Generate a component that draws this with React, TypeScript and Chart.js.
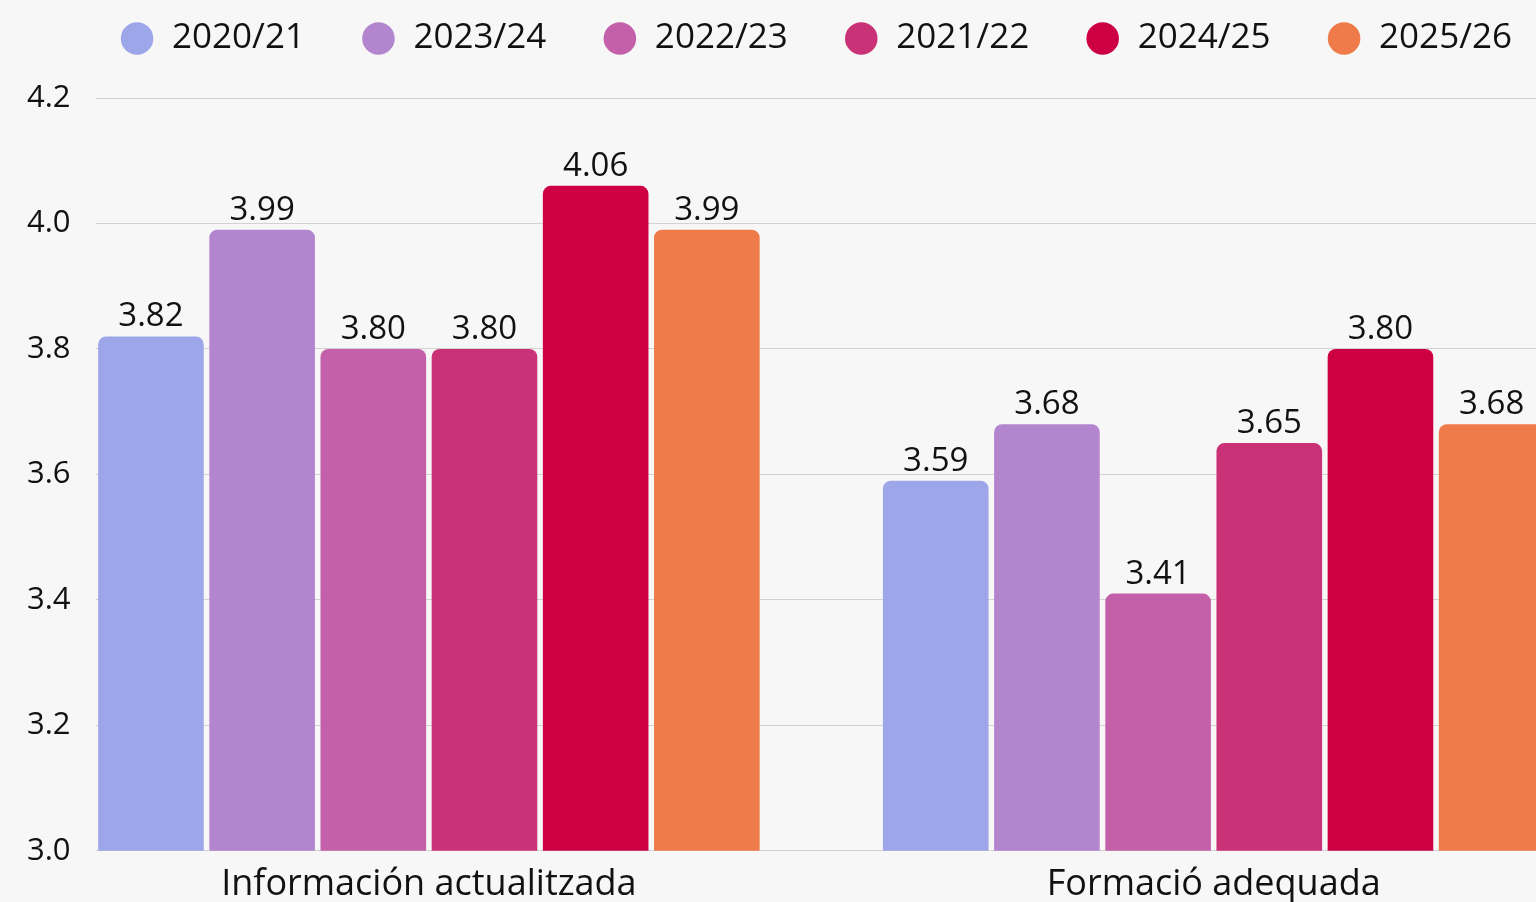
import React, { useEffect, useRef } from "react";
import { Chart, registerables } from "chart.js";

Chart.register(...registerables);

const categories = ["Información actualitzada", "Formació adequada"];
const seriesNames = ["2020/21", "2023/24", "2022/23", "2021/22", "2024/25", "2025/26"];
const values2020_21 = [3.82, 3.59];
const values2023_24 = [3.99, 3.68];
const values2022_23 = [3.8, 3.41];
const values2021_22 = [3.8, 3.65];
const values2024_25 = [4.06, 3.8];
const values2025_26 = [3.99, 3.68];
const seriesValues = [values2020_21, values2023_24, values2022_23, values2021_22, values2024_25, values2025_26];
const seriesColors = ["#9ea6ea", "#b385cf", "#c460a9", "#ca3277", "#cd0044", "#ef7b4a"];
const yMin = 3.0;
const yMax = 4.2;
const yStep = 0.2;

const FONT = "'Open Sans', sans-serif";

export default function App() {
  const ref = useRef<HTMLCanvasElement>(null);

  useEffect(() => {
    const canvas = ref.current!;

    const valueLabels = {
      id: "valueLabels",
      afterDatasetsDraw(chart: any) {
        const ctx = chart.ctx;
        ctx.save();
        ctx.font = `33px ${FONT}`;
        ctx.fillStyle = "#111";
        ctx.textAlign = "center";
        ctx.textBaseline = "alphabetic";
        chart.data.datasets.forEach((ds: any, i: number) => {
          const meta = chart.getDatasetMeta(i);
          meta.data.forEach((el: any, j: number) => {
            const v = ds.data[j].y;
            ctx.fillText(v.toFixed(2), el.x, el.y - 10);
          });
        });
        ctx.restore();
      },
    };

    const legendSpacer = {
      id: "legendSpacer",
      beforeLayout(chart: any) {
        const lg = chart.legend;
        if (lg && !lg.__spaced) {
          const fit = lg.fit;
          lg.fit = function () {
            fit.call(this);
            this.height += 32;
          };
          lg.__spaced = true;
        }
      },
    };

    const chart = new Chart(canvas, {
      type: "bar",
      data: {
        datasets: seriesNames.map((name, i) => ({
          label: name,
          data: seriesValues[i].map((v, j) => ({ x: j, y: v })),
          backgroundColor: seriesColors[i],
          borderRadius: 8,
          borderSkipped: "start",
          categoryPercentage: 0.85,
          barPercentage: 0.95,
        })),
      },
      options: {
        responsive: false,
        animation: false,
        devicePixelRatio: 1,
        layout: { padding: { top: -35, left: 2, right: -32, bottom: -16 } },
        plugins: {
          tooltip: { enabled: false },
          legend: {
            position: "top",
            align: "end",
            labels: {
              usePointStyle: true,
              pointStyle: "circle",
              boxHeight: 23,
              padding: 56,
              color: "#111",
              font: { family: FONT, size: 35 },
            },
          },
        },
        scales: {
          x: {
            type: "linear",
            offset: false,
            min: -0.4247,
            max: 1.4107,
            grid: { display: false, offset: false, drawTicks: false },
            border: { display: false },
            ticks: {
              stepSize: 1,
              includeBounds: false,
              autoSkip: false,
              maxRotation: 0,
              padding: 12,
              color: "#111",
              font: { family: FONT, size: 36 },
              callback: (v: any) => categories[Math.round(Number(v))] ?? "",
            },
          },
          y: {
            min: yMin,
            max: yMax,
            grid: { color: "#d2d2d2", lineWidth: 1, drawTicks: false },
            border: { display: false },
            ticks: {
              stepSize: yStep,
              padding: 25,
              color: "#111",
              font: { family: FONT, size: 31 },
              callback: (v: any) => Number(v).toFixed(1),
            },
          },
        },
      },
      plugins: [valueLabels, legendSpacer],
    } as any);

    return () => chart.destroy();
  }, []);

  return (
    <div
      style={{
        position: "fixed",
        left: 0,
        top: 0,
        width: 1536,
        height: 902,
        background: "#f7f7f7",
        overflow: "hidden",
      }}
    >
      <canvas ref={ref} width={1536} height={902} style={{ display: "block" }} />
    </div>
  );
}
